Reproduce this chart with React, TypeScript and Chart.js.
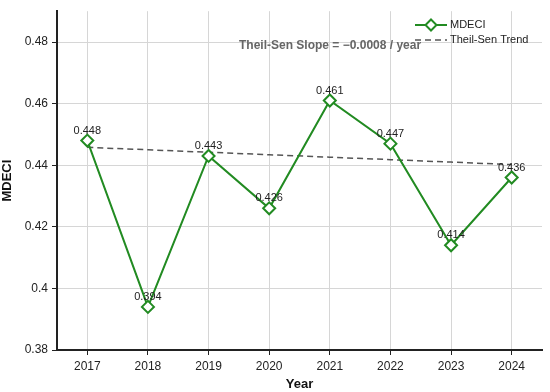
import React, { useEffect, useRef } from "react";
import { Chart, registerables } from "chart.js";

Chart.register(...registerables);

const years = ["2017", "2018", "2019", "2020", "2021", "2022", "2023", "2024"];
const mdeci = [0.448, 0.394, 0.443, 0.426, 0.461, 0.447, 0.414, 0.436];
const trendStart = 0.4458;
const trendSlope = -0.0008;
const yTicks = [0.38, 0.4, 0.42, 0.44, 0.46, 0.48];

const GREEN = "#228B22";
const FONT = "'Liberation Sans', Arial, sans-serif";

export default function App() {
  const ref = useRef<HTMLCanvasElement | null>(null);

  useEffect(() => {
    document.body.style.margin = "0";
    const trend = years.map((_, i) => trendStart + trendSlope * i);

    const overlay = {
      id: "overlay",
      afterDatasetsDraw(chart: any) {
        const ctx = chart.ctx;
        const meta = chart.getDatasetMeta(1);
        ctx.save();
        // point value labels
        ctx.font = `11px ${FONT}`;
        ctx.fillStyle = "#222";
        ctx.textAlign = "center";
        ctx.textBaseline = "middle";
        meta.data.forEach((pt: any, i: number) => {
          ctx.fillText(mdeci[i].toFixed(3), pt.x, pt.y - 10);
        });
        // slope annotation
        ctx.font = `bold 12px ${FONT}`;
        ctx.fillStyle = "#666";
        ctx.textAlign = "left";
        ctx.fillText(`Theil-Sen Slope = \u22120.0008 / year`, 239, 46);
        // legend
        const lx = 415, lw = 32;
        ctx.strokeStyle = GREEN;
        ctx.lineWidth = 2;
        ctx.setLineDash([]);
        ctx.beginPath();
        ctx.moveTo(lx, 25);
        ctx.lineTo(lx + lw, 25);
        ctx.stroke();
        const cx = lx + lw / 2, cy = 25, r = 5.5;
        ctx.beginPath();
        ctx.moveTo(cx, cy - r);
        ctx.lineTo(cx + r, cy);
        ctx.lineTo(cx, cy + r);
        ctx.lineTo(cx - r, cy);
        ctx.closePath();
        ctx.fillStyle = "#fff";
        ctx.fill();
        ctx.stroke();
        ctx.strokeStyle = "#555";
        ctx.lineWidth = 1.5;
        ctx.setLineDash([6, 4]);
        ctx.beginPath();
        ctx.moveTo(lx, 40);
        ctx.lineTo(lx + lw, 40);
        ctx.stroke();
        ctx.setLineDash([]);
        ctx.font = `11px ${FONT}`;
        ctx.fillStyle = "#222";
        ctx.fillText("MDECI", 450, 25);
        ctx.fillText("Theil-Sen Trend", 450, 40);
        ctx.restore();
      },
    };

    const chart = new Chart(ref.current as HTMLCanvasElement, {
      type: "line",
      data: {
        labels: years,
        datasets: [
          {
            label: "Theil-Sen Trend",
            data: trend,
            borderColor: "#555",
            borderWidth: 1.5,
            borderDash: [6, 4],
            pointRadius: 0,
            fill: false,
            order: 2,
          },
          {
            label: "MDECI",
            data: mdeci,
            borderColor: GREEN,
            borderWidth: 2,
            pointStyle: "rectRot",
            pointRadius: 6,
            pointBorderWidth: 2,
            pointBackgroundColor: "#fff",
            pointBorderColor: GREEN,
            fill: false,
            order: 1,
          },
        ],
      },
      options: {
        animation: false,
        responsive: false,
        layout: { padding: { left: 0, right: 7, top: 8, bottom: 0 } },
        plugins: { legend: { display: false }, tooltip: { enabled: false } },
        scales: {
          x: {
            type: "category",
            offset: true,
            grid: {
              offset: false,
              color: "#d6d6d6",
              tickColor: "#222",
              tickLength: 5,
              lineWidth: 1,
            },
            border: { display: true, color: "#222", width: 2 },
            ticks: { color: "#222", font: { family: FONT, size: 12 }, padding: 4 },
            title: {
              display: true,
              text: "Year",
              color: "#111",
              font: { family: FONT, size: 13, weight: "bold" },
              padding: { top: 0, bottom: 0 },
            },
            afterFit(scale: any) {
              scale.height = 42;
            },
          },
          y: {
            min: 0.38,
            max: 0.49,
            grid: {
              color: "#d6d6d6",
              tickColor: "#222",
              tickLength: 5,
              lineWidth: 1,
            },
            border: { display: true, color: "#222", width: 2 },
            ticks: {
              stepSize: 0.02,
              color: "#222",
              font: { family: FONT, size: 12 },
              padding: 4,
              callback: (v: any) => String(Number(Number(v).toFixed(2))),
            },
            afterBuildTicks(scale: any) {
              scale.ticks = yTicks.map((v) => ({ value: v }));
            },
            title: {
              display: true,
              text: "MDECI",
              color: "#111",
              font: { family: FONT, size: 13, weight: "bold" },
              padding: { top: 0, bottom: 2 },
            },
            afterFit(scale: any) {
              scale.width = 57;
            },
          },
        },
      },
      plugins: [overlay],
    } as any);
    return () => chart.destroy();
  }, []);

  return (
    <div style={{ width: 550, height: 392 }}>
      <canvas ref={ref} width={550} height={392} style={{ display: "block" }} />
    </div>
  );
}
